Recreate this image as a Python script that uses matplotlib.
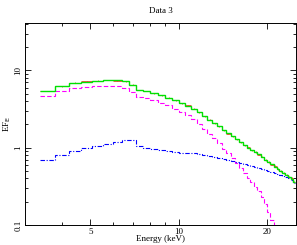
import numpy as np
import matplotlib
matplotlib.use("Agg")
import matplotlib.pyplot as plt
from matplotlib.ticker import FixedLocator, NullFormatter

# energy bin edges (keV)
edges = [3.37, 3.81, 4.23, 4.65, 5.08, 5.52, 5.96, 6.40, 6.80, 7.18, 7.57,
         8.0, 8.5, 9.0, 9.5, 10.0, 10.5, 11.0, 11.5, 12.0, 12.5, 13.0, 13.5,
         14.0, 14.5, 15.0, 15.5, 16.0, 16.5, 17.0, 17.5, 18.0, 18.5, 19.0,
         19.5, 20.0, 20.5, 21.0, 21.5, 22.0, 22.5, 23.0, 23.5, 24.0, 24.5, 24.8]

# observed data (red)
data = [5.42, 6.22, 6.95, 7.18, 7.38, 7.47, 7.38, 7.22, 6.52, 5.58,
        5.4, 5.06, 4.75, 4.41, 4.1, 3.75, 3.53, 3.19, 2.87, 2.54, 2.29, 2.07,
        1.89, 1.69, 1.52, 1.41, 1.28, 1.18, 1.07, 1.01, 0.925, 0.875, 0.815, 0.765,
        0.695, 0.655, 0.605, 0.575, 0.525, 0.5, 0.465, 0.445, 0.415, 0.4, 0.36]
data_err = [0.06, 0.06, 0.06, 0.06, 0.06, 0.06, 0.06, 0.06, 0.06, 0.06,
            0.05, 0.05, 0.05, 0.05, 0.04, 0.04, 0.04, 0.04, 0.035, 0.035, 0.03, 0.03,
            0.03, 0.025, 0.025, 0.025, 0.02, 0.02, 0.02, 0.02, 0.018, 0.018, 0.018, 0.018,
            0.016, 0.016, 0.016, 0.015, 0.015, 0.014, 0.014, 0.014, 0.013, 0.013, 0.013]

# total model (green)
model = [5.4, 6.25, 6.9, 7.15, 7.35, 7.45, 7.4, 7.2, 6.5, 5.6,
         5.38, 5.07, 4.73, 4.42, 4.08, 3.76, 3.51, 3.2, 2.85, 2.55, 2.28, 2.08,
         1.88, 1.68, 1.53, 1.4, 1.28, 1.17, 1.08, 1.0, 0.93, 0.87, 0.82, 0.76,
         0.7, 0.65, 0.61, 0.57, 0.53, 0.497, 0.468, 0.442, 0.419, 0.398, 0.359]

# components
comp1 = [4.71, 5.45, 6.0, 6.17, 6.31, 6.35, 6.2, 5.94, 5.24, 4.56,
         4.40, 4.12, 3.80, 3.52, 3.20, 2.90, 2.66, 2.36, 2.03, 1.75, 1.50, 1.32,
         1.14, 0.965, 0.84, 0.73, 0.63, 0.54, 0.47, 0.41, 0.355, 0.31, 0.275, 0.23,
         0.185, 0.145, 0.115, 0.085, 0.065, 0.048, 0.035, 0.025, 0.018, 0.012, 0.008]
comp2 = [0.69, 0.80, 0.9, 0.98, 1.04, 1.1, 1.2, 1.26, 1.26, 1.04,
         0.98, 0.95, 0.93, 0.9, 0.88, 0.86, 0.85, 0.84, 0.82, 0.8, 0.78, 0.76,
         0.74, 0.715, 0.69, 0.67, 0.65, 0.63, 0.61, 0.59, 0.575, 0.56, 0.545, 0.53,
         0.515, 0.505, 0.49, 0.475, 0.46, 0.445, 0.43, 0.415, 0.4, 0.385, 0.35]

edges_a = np.array(edges)
centers = 0.5 * (edges_a[1:] + edges_a[:-1])
halfw = 0.5 * (edges_a[1:] - edges_a[:-1])

plt.rcParams["font.family"] = "Liberation Serif"

fig = plt.figure(figsize=(2.97, 2.45), dpi=100)
ax = fig.add_axes([0.084, 0.082, 0.912, 0.824])

ax.errorbar(centers, data, xerr=halfw, yerr=data_err, fmt="none",
            ecolor="#ff3030", elinewidth=0.6, capsize=0, zorder=2)
ax.stairs(model, edges, baseline=None, color="#00e000", lw=1.0, zorder=3)
ax.stairs(comp1, edges, baseline=None, color="#ff00ff", lw=0.8,
          linestyle=(0, (4, 2)), zorder=2)
ax.stairs(comp2, edges, baseline=None, color="#0000ff", lw=0.8,
          linestyle=(0, (4, 1.5, 1, 1.5)), zorder=2)

ax.set_xscale("log")
ax.set_yscale("log")
ax.set_xlim(3, 25)
ax.set_ylim(0.1, 41)

ax.xaxis.set_major_locator(FixedLocator([5, 10, 20]))
ax.xaxis.set_minor_locator(FixedLocator([3, 4, 6, 7, 8, 9]))
ax.set_xticklabels(["5", "10", "20"])
ax.xaxis.set_minor_formatter(NullFormatter())
ax.yaxis.set_major_locator(FixedLocator([0.1, 1, 10]))
ax.yaxis.set_minor_locator(FixedLocator([m * d for d in [0.1, 1, 10] for m in range(2, 10)]))
ax.set_yticklabels(["0.1", "1", "10"], rotation=90, va="center")
ax.yaxis.set_minor_formatter(NullFormatter())

ax.tick_params(which="both", direction="in", top=True, right=True,
               labelsize=6.5, width=0.6, pad=2)
ax.tick_params(which="major", length=4)
ax.tick_params(which="minor", length=2)
for s in ax.spines.values():
    s.set_linewidth(0.7)

ax.set_xlabel("Energy (keV)", fontsize=6.5, labelpad=-0.5)
ax.set_ylabel(r"EF$_\mathrm{E}$", fontsize=6.5, labelpad=1)
ax.set_title("Data 3", fontsize=6.5, pad=7)

fig.savefig("out.png", dpi=100)
